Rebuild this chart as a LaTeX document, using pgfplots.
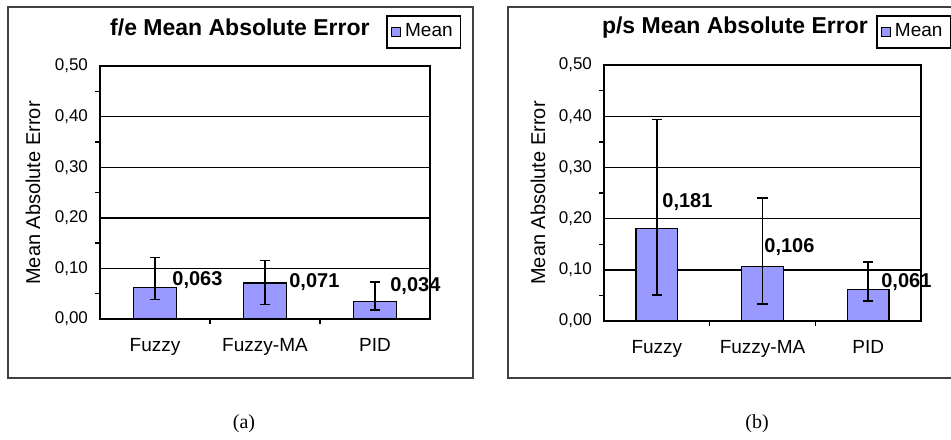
\documentclass[border=0pt]{standalone}
\usepackage{fontspec}
\setmainfont{Liberation Sans}
\newfontfamily\capfont{Liberation Serif}
\usepackage{pgfplots}
\pgfplotsset{compat=1.18}
\definecolor{barblue}{HTML}{9999FF}

\tikzset{vlab/.style={anchor=west, font=\bfseries\fontsize{10}{12}\selectfont, inner sep=0pt}}

\pgfplotsset{
  mae/.style={
    scale only axis,
    anchor=south west,
    clip=false,
    xmin=-0.5, xmax=2.5, ymin=0, ymax=0.5,
    axis line style={black, line width=0.8pt},
    xtick={0,1,2},
    xticklabels={Fuzzy,Fuzzy-MA,PID},
    minor xtick={0.5,1.5},
    ytick={0,0.1,0.2,0.3,0.4,0.5},
    minor y tick num=1,
    xtick pos=bottom, ytick pos=left,
    major tick length=0pt,
    minor tick length=2.5pt,
    tick align=outside,
    minor tick style={black, line width=0.7pt},
    ymajorgrids,
    major grid style={black, line width=0.7pt},
    /pgf/number format/.cd, use comma, fixed, fixed zerofill, precision=2, assume math mode=true,
    /pgfplots/.cd,
    yticklabel style={font=\fontsize{8.5}{10}\selectfont, xshift=-2.5pt},
    xticklabel style={font=\fontsize{9.5}{11}\selectfont, yshift=-6pt},
    ylabel={Mean Absolute Error},
    ylabel style={font=\fontsize{10}{12}\selectfont, anchor=center},
    title style={font=\bfseries\fontsize{11.5}{13}\selectfont, anchor=center},
    legend style={font=\fontsize{9.5}{11}\selectfont, draw=black, line width=0.8pt,
      anchor=north west, inner sep=2pt, legend cell align=left},
    legend image code/.code={\draw[#1, line width=0.5pt] (0pt,-2.3pt) rectangle (4.6pt,2.3pt);},
    error bars/y dir=both,
    error bars/y explicit,
    error bars/error mark options={rotate=90, mark size=2.6pt, line width=0.7pt, black},
    error bars/error bar style={black, line width=0.7pt},
  },
}

\begin{document}
\begin{tikzpicture}[x=0.5pt,y=0.5pt]
\useasboundingbox (0,0) rectangle (951,439);
\clip (0,0) rectangle (951,439);

% chart frames
\draw[black!75, line width=0.9pt] (8,432) rectangle (473,61);
\draw[black!75, line width=0.9pt] (960,432) -- (508,432) -- (508,61) -- (960,61);

% (a)
\begin{axis}[mae,
  at={(50pt,60pt)}, width=165pt, height=126.5pt,
  title={f/e Mean Absolute Error},
  title style={at={(axis description cs:0.424,1.107)}},
  ylabel style={at={(axis description cs:-0.203,0.498)}},
  legend style={at={(axis description cs:0.867,1.202)}},
]
\addplot[ybar, bar width=21.5pt, fill=barblue, draw=black, line width=0.6pt]
  coordinates {
    (0,0.063) += (0,0.059) -= (0,0.024)
    (1,0.071) += (0,0.045) -= (0,0.042)
    (2,0.034) += (0,0.039) -= (0,0.016)
  };
\addlegendentry{Mean}
\node[vlab] at (axis cs:0.155,0.077) {0,063};
\node[vlab] at (axis cs:1.218,0.073) {0,071};
\node[vlab] at (axis cs:2.136,0.066) {0,034};
\end{axis}

% (b)
\begin{axis}[mae,
  at={(302pt,59pt)}, width=158.5pt, height=128pt,
  title={p/s Mean Absolute Error},
  title style={at={(axis description cs:0.413,1.10)}},
  ylabel style={at={(axis description cs:-0.208,0.5)}},
  legend style={at={(axis description cs:0.858,1.195)}},
]
\addplot[ybar, bar width=20.8pt, fill=barblue, draw=black, line width=0.6pt]
  coordinates {
    (0,0.181) += (0,0.213) -= (0,0.130)
    (1,0.106) += (0,0.134) -= (0,0.073)
    (2,0.061) += (0,0.054) -= (0,0.022)
  };
\addlegendentry{Mean}
\node[vlab] at (axis cs:0.049,0.232) {0,181};
\node[vlab] at (axis cs:1.014,0.145) {0,106};
\node[vlab] at (axis cs:2.121,0.076) {0,061};
\end{axis}

% captions
\node[font=\capfont\fontsize{10}{12}\selectfont] at (244,15) {(a)};
\node[font=\capfont\fontsize{10}{12}\selectfont] at (757,15) {(b)};
\end{tikzpicture}
\end{document}
